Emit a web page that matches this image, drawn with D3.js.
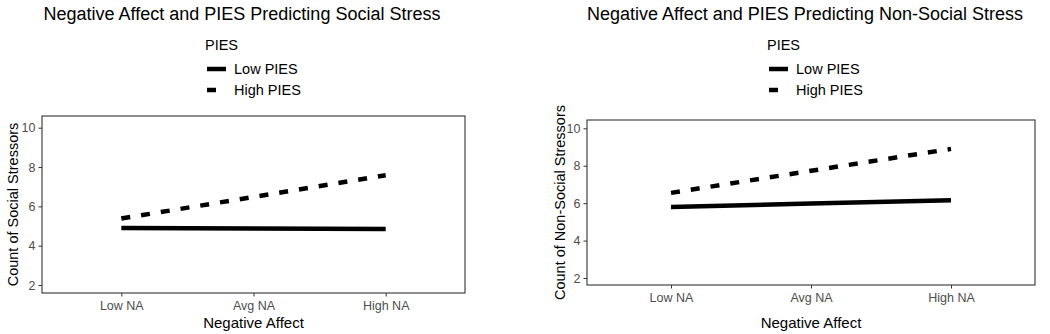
<!DOCTYPE html>
<html>
<head>
<meta charset="utf-8">
<script src="https://cdn.jsdelivr.net/npm/d3@7"></script>
<style>
  body { margin: 0; background: #fff; }
  text { font-family: "Liberation Sans", Arial, sans-serif; }
</style>
</head>
<body>
<svg id="chart" width="1050" height="334"></svg>
<script>
// categories on the x axis
const naLevels = ["Low NA", "Avg NA", "High NA"];
const yTicks = [2, 4, 6, 8, 10];
const groups = ["Low PIES", "High PIES"];

// predicted counts
const socialLow = [4.9, 4.87, 4.85];
const socialHigh = [5.38, 6.48, 7.58];
const nonSocialLow = [5.8, 5.98, 6.15];
const nonSocialHigh = [6.55, 7.73, 8.9];

const svg = d3.select("#chart");

// one panel per plot
const panels = [
  {
    title: "Negative Affect and PIES Predicting Social Stress",
    titleX: 242,
    yLabel: "Count of Social Stressors",
    yLabelX: 18,
    box: {x0: 42, x1: 465, y0: 116, y1: 293},
    yRange: [285, 127.7],
    legendX: 205,
    series: [socialLow, socialHigh]
  },
  {
    title: "Negative Affect and PIES Predicting Non-Social Stress",
    titleX: 805,
    yLabel: "Count of Non-Social Stressors",
    yLabelX: 565,
    box: {x0: 587, x1: 1035, y0: 120, y1: 285},
    yRange: [278, 128.3],
    legendX: 767,
    series: [nonSocialLow, nonSocialHigh]
  }
];

const dashes = [null, "9,11"];

panels.forEach(p => {
  const g = svg.append("g");
  const b = p.box;

  const x = d3.scaleLinear().domain([0.4, 3.6]).range([b.x0, b.x1]);
  const y = d3.scaleLinear().domain([2, 10]).range(p.yRange);

  // title
  g.append("text")
    .attr("x", p.titleX).attr("y", 20)
    .attr("text-anchor", "middle")
    .style("font-size", "18px").attr("fill", "#000")
    .text(p.title);

  // legend
  const lg = g.append("g").attr("transform", `translate(${p.legendX},0)`);
  lg.append("text").attr("x", 0).attr("y", 50)
    .style("font-size", "14.5px").text("PIES");
  groups.forEach((name, i) => {
    const cy = 69 + i * 21;
    lg.append("line")
      .attr("x1", 2).attr("x2", i === 0 ? 21 : 11)
      .attr("y1", cy).attr("y2", cy)
      .attr("stroke", "#000").attr("stroke-width", 4.5);
    lg.append("text").attr("x", 29).attr("y", cy + 5)
      .style("font-size", "14.5px").text(name);
  });

  // panel border
  g.append("rect")
    .attr("x", b.x0).attr("y", b.y0)
    .attr("width", b.x1 - b.x0).attr("height", b.y1 - b.y0)
    .attr("fill", "none").attr("stroke", "#333").attr("stroke-width", 1.1);

  // axes
  const xAxis = g.append("g")
    .attr("transform", `translate(0,${b.y1})`)
    .call(d3.axisBottom(x).tickValues([1, 2, 3])
      .tickFormat((d) => naLevels[d - 1]).tickSize(3.5).tickPadding(5));
  const yAxis = g.append("g")
    .attr("transform", `translate(${b.x0},0)`)
    .call(d3.axisLeft(y).tickValues(yTicks).tickSize(3.5).tickPadding(3));
  [xAxis, yAxis].forEach(a => {
    a.select(".domain").remove();
    a.selectAll(".tick line").attr("stroke", "#333");
    a.selectAll(".tick text").attr("fill", "#4D4D4D")
      .style("font-size", "12.5px")
      .style("font-family", "'Liberation Sans', Arial, sans-serif");
  });

  // axis titles
  g.append("text")
    .attr("x", (b.x0 + b.x1) / 2).attr("y", 328)
    .attr("text-anchor", "middle")
    .style("font-size", "15px").text("Negative Affect");
  g.append("text")
    .attr("transform", `translate(${p.yLabelX},${(b.y0 + b.y1) / 2}) rotate(-90)`)
    .attr("text-anchor", "middle")
    .style("font-size", "14.5px").text(p.yLabel);

  // lines
  const line = d3.line().x((d, i) => x(i + 1)).y(d => y(d));
  p.series.forEach((vals, i) => {
    g.append("path")
      .datum(vals)
      .attr("d", line)
      .attr("fill", "none")
      .attr("stroke", "#000")
      .attr("stroke-width", 4.5)
      .attr("stroke-dasharray", dashes[i]);
  });
});
</script>
</body>
</html>
